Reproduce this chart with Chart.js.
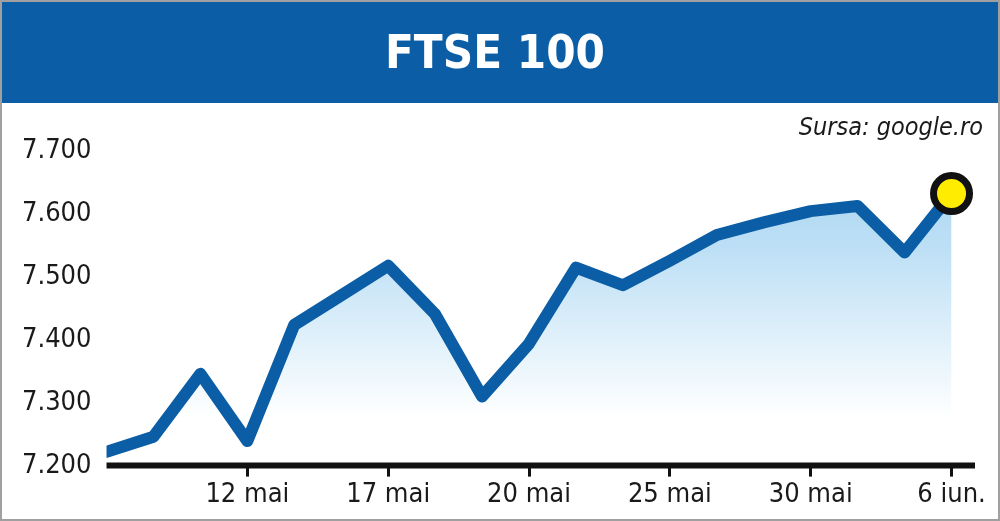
<!DOCTYPE html>
<html>
<head>
<meta charset="utf-8">
<script src="https://cdn.jsdelivr.net/npm/chart.js@4/dist/chart.umd.min.js"></script>
<style>
  html, body { margin: 0; padding: 0; background: #fff; }
  #wrap { width: 1000px; height: 521px; position: relative; }
</style>
</head>
<body>
<div id="wrap"><canvas id="chartFtse"></canvas></div>
<script>
// valori FTSE 100 (19 sedinte)
const values = [7222, 7246, 7346, 7239, 7424, 7471, 7518, 7441, 7310, 7394,
                7515, 7487, 7526, 7567, 7587, 7605, 7613, 7539, 7633];
const tickPos = [3, 6, 9, 12, 15, 18];
const tickLabels = ['12 mai', '17 mai', '20 mai', '25 mai', '30 mai', '6 iun.'];
const yTicks = [7200, 7300, 7400, 7500, 7600, 7700];

const BLUE = '#0b5ea6';
const FONT = "'Liberation Sans Narrow', 'DejaVu Sans Condensed', sans-serif";

const fmt = v => Math.floor(v / 1000) + '.' + String(v % 1000).padStart(3, '0');

const frame = {
  id: 'frame',
  beforeDraw(chart) {
    const c = chart.ctx;
    c.save();
    c.fillStyle = '#fff';
    c.fillRect(0, 0, chart.width, chart.height);
    c.fillStyle = BLUE;
    c.fillRect(0, 0, chart.width, 103);
    c.restore();
  },
  afterDatasetsDraw(chart) {
    // axa X groasa, peste umplere
    const c = chart.ctx, a = chart.chartArea;
    c.save();
    c.strokeStyle = '#111';
    c.lineWidth = 6;
    c.beginPath();
    c.moveTo(a.left, a.bottom);
    c.lineTo(a.right, a.bottom);
    c.stroke();
    c.restore();
  },
  afterDraw(chart) {
    const c = chart.ctx;
    c.save();
    c.strokeStyle = '#a0a0a0';
    c.lineWidth = 2;
    c.strokeRect(1, 1, chart.width - 2, chart.height - 2);
    c.restore();
  }
};

const ctx = document.getElementById('chartFtse');

new Chart(ctx, {
  type: 'line',
  data: {
    datasets: [{
      data: values.map((v, i) => ({ x: i, y: v })),
      borderColor: BLUE,
      borderWidth: 12,
      borderJoinStyle: 'round',
      borderCapStyle: 'round',
      tension: 0,
      fill: 'start',
      backgroundColor: (context) => {
        const area = context.chart.chartArea;
        if (!area) return 'rgba(160,210,240,0.5)';
        const g = context.chart.ctx.createLinearGradient(0, area.top, 0, area.bottom);
        g.addColorStop(0, '#a6d4f2');
        g.addColorStop(0.3, '#bcdff5');
        g.addColorStop(0.85, '#ffffff');
        return g;
      },
      pointRadius: (c) => c.dataIndex === values.length - 1 ? 18 : 0,
      pointHoverRadius: (c) => c.dataIndex === values.length - 1 ? 18 : 0,
      pointBackgroundColor: '#ffec00',
      pointBorderColor: '#111',
      pointBorderWidth: 7
    }]
  },
  options: {
    responsive: true,
    maintainAspectRatio: false,
    animation: false,
    layout: { padding: { left: 7, right: 17, bottom: 8 } },
    plugins: {
      legend: { display: false },
      tooltip: { enabled: false },
      title: {
        display: true,
        text: 'FTSE 100',
        color: '#fff',
        font: { family: FONT, size: 47, weight: 'bold' },
        padding: { top: 28, bottom: 29 }
      },
      subtitle: {
        display: true,
        text: 'Sursa: google.ro',
        align: 'end',
        color: '#1a1a1a',
        font: { family: FONT, size: 25, style: 'italic' },
        padding: { top: 0, bottom: 8 }
      }
    },
    scales: {
      x: {
        type: 'linear',
        min: 0,
        max: 18.5,
        afterBuildTicks: (axis) => { axis.ticks = tickPos.map(v => ({ value: v })); },
        ticks: {
          color: '#1a1a1a',
          font: { family: FONT, size: 27 },
          padding: 2,
          maxRotation: 0,
          callback: (v) => tickLabels[tickPos.indexOf(v)]
        },
        grid: {
          drawOnChartArea: false,
          color: '#111',
          tickLength: 11,
          tickWidth: 3
        },
        border: { display: false }
      },
      y: {
        min: 7200,
        max: 7700,
        afterBuildTicks: (axis) => { axis.ticks = yTicks.map(v => ({ value: v })); },
        ticks: {
          color: '#1a1a1a',
          font: { family: FONT, size: 27 },
          padding: 15,
          callback: (v) => fmt(v)
        },
        grid: { display: false, drawTicks: false },
        border: { display: false }
      }
    }
  },
  plugins: [frame]
});
</script>
</body>
</html>
